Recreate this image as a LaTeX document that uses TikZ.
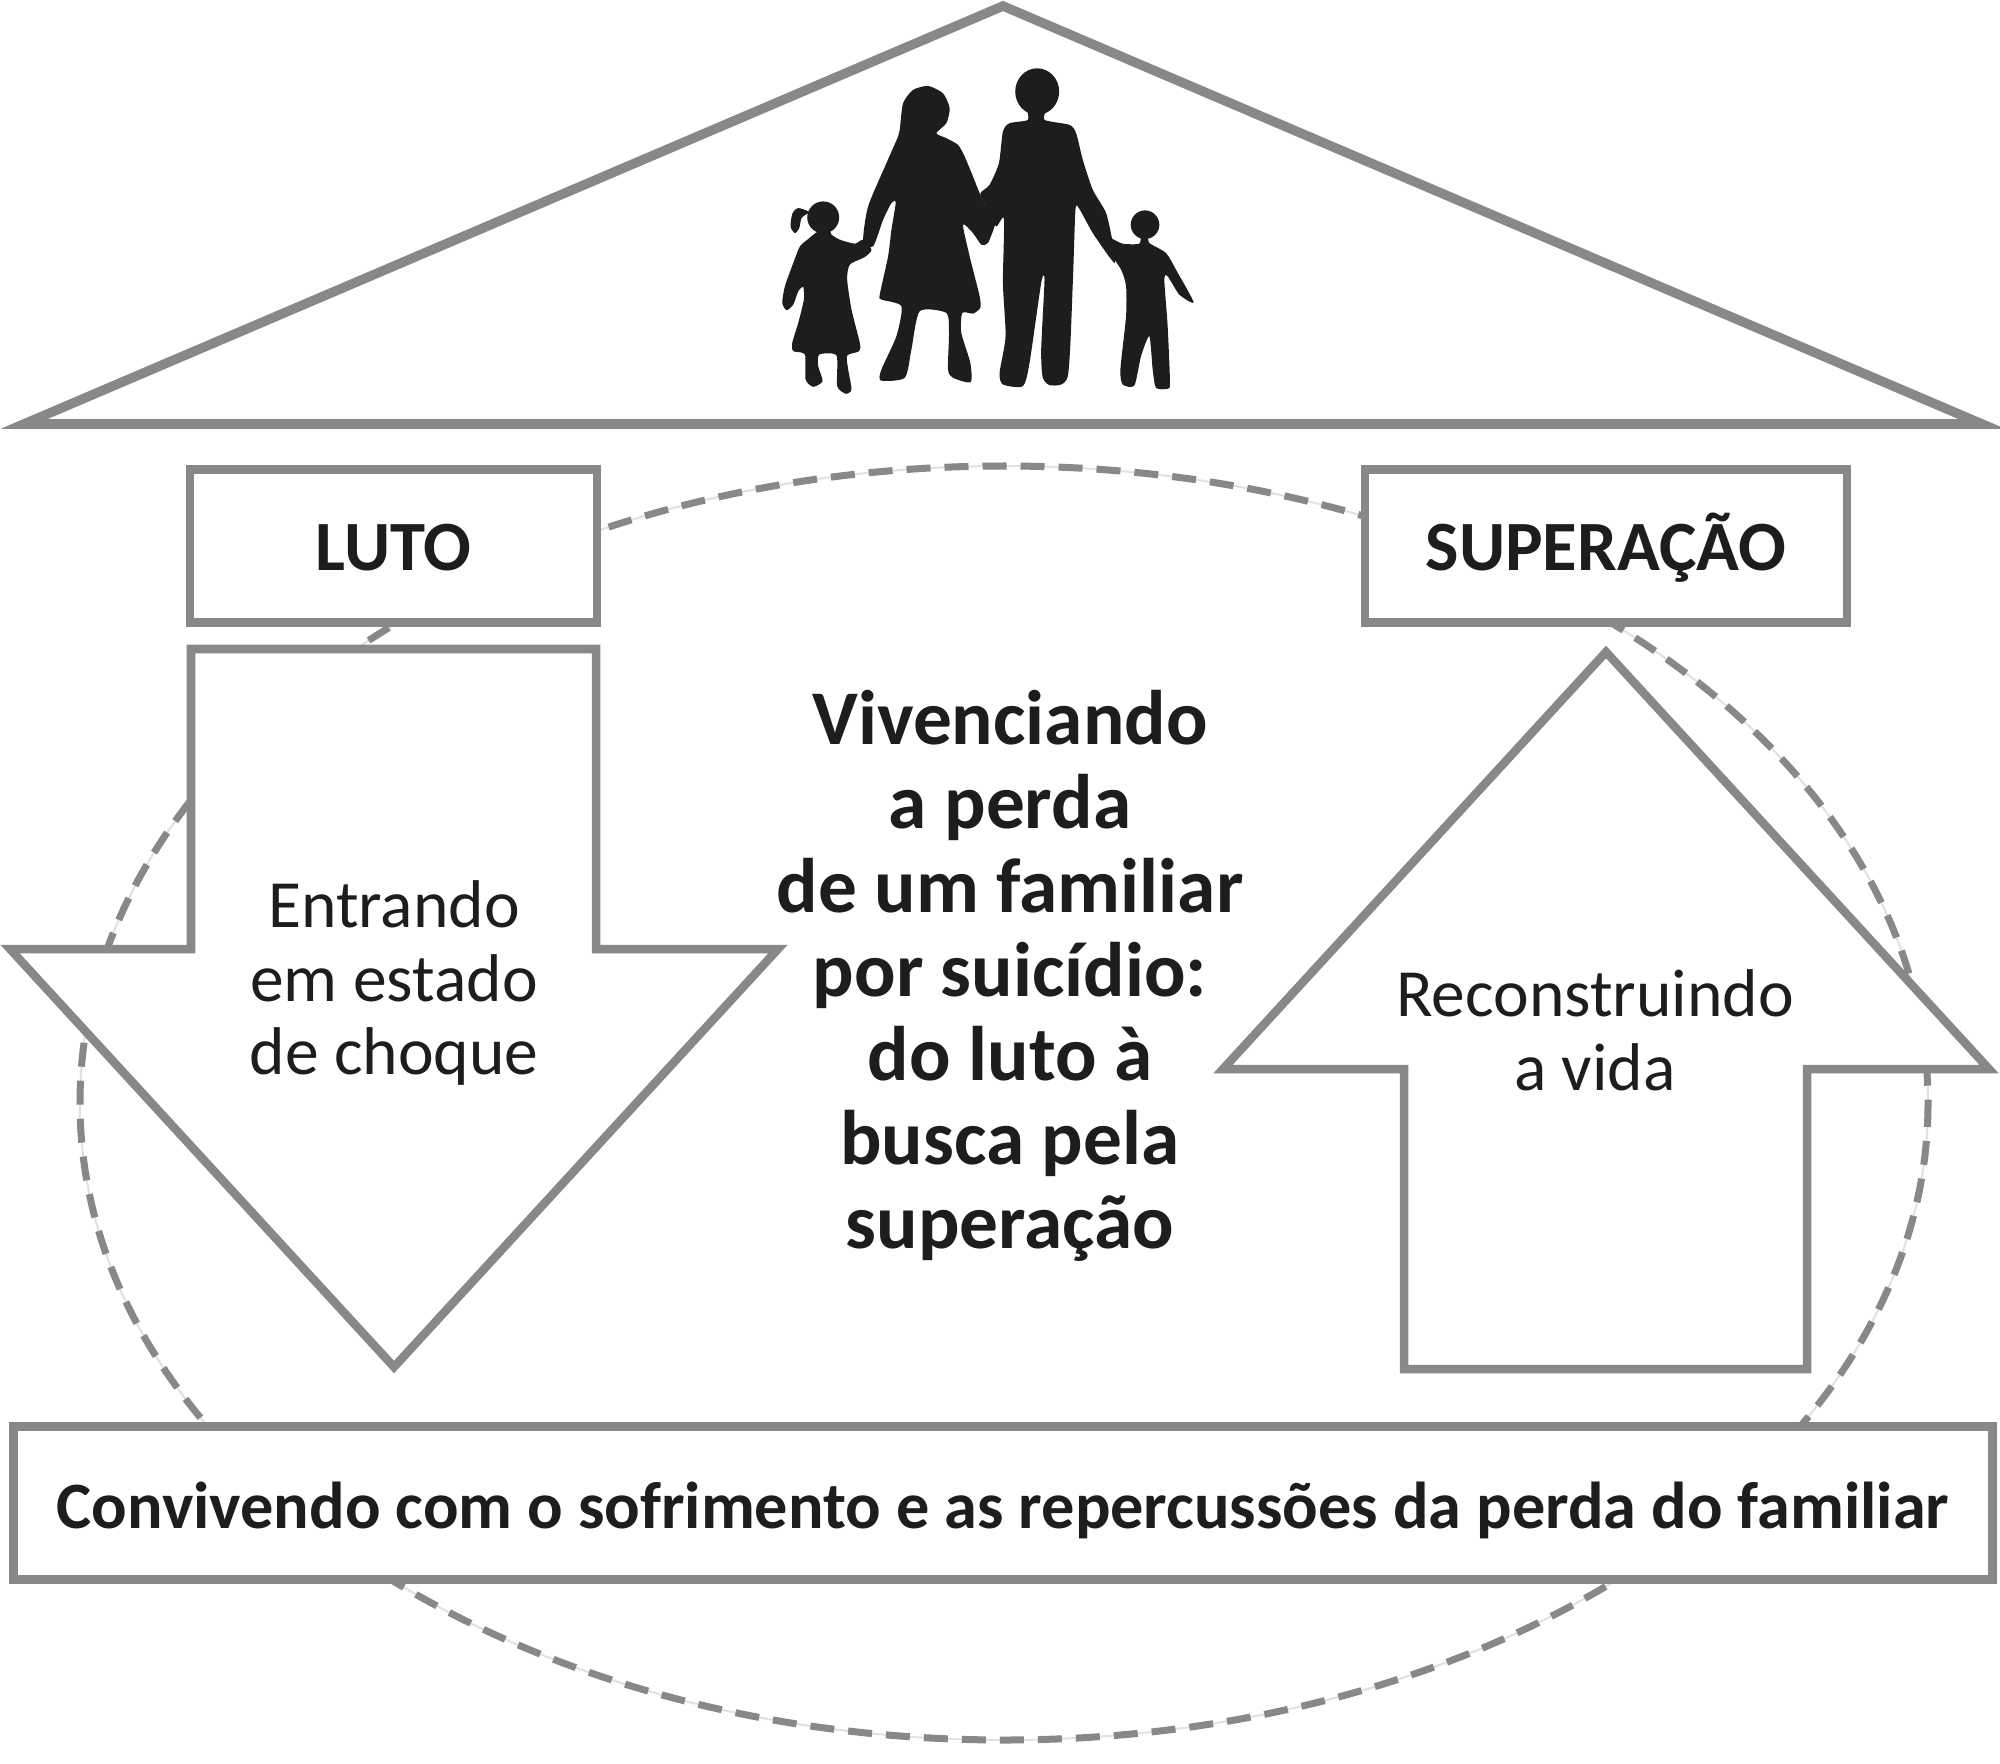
\documentclass[tikz,border=0pt]{standalone}
\usepackage{fontspec}
\setmainfont{Carlito}
\definecolor{edge}{HTML}{87888A}
\definecolor{ink}{HTML}{1D1D1B}
\tikzset{
  shapeline/.style={draw=edge,line width=0.085cm,fill=white,miter limit=20},
  roofline/.style={shapeline,line width=0.095cm},
  labelbox/.style={shapeline,rectangle,inner sep=0pt,text=ink,align=center},
  plain/.style={text=ink,align=center,inner sep=0pt},
  dashring/.style={draw=edge,line width=0.07cm,dash pattern=on 0.24cm off 0.14cm},
  faintring/.style={draw=edge!25,line width=0.02cm},
  sil/.style={fill=ink,draw=none},
  bigfont/.style={font=\fontsize{22pt}{23.9pt}\selectfont\bfseries},
  barfont/.style={font=\fontsize{18.85pt}{22pt}\selectfont\bfseries},
  capfont/.style={font=\fontsize{20.1pt}{24pt}\selectfont\bfseries},
  midfont/.style={font=\fontsize{19.2pt}{21pt}\selectfont}
}
\begin{document}
\begin{tikzpicture}[x=0.01cm,y=-0.01cm]
\useasboundingbox (0,0) rectangle (2000,1764);
\fill[white] (0,0) rectangle (2000,1764);
% dashed ring
\draw[faintring] (1004,1103) ellipse [x radius=924,y radius=637];
\draw[dashring] (1004,1103) ellipse [x radius=924,y radius=637];
% roof
\draw[roofline] (1003,6) -- (1982,424) -- (24,424) -- cycle;
% family
\begin{scope}[shift={(740,50)},x=0.003333cm,y=-0.003333cm]
\fill[sil] (250,503) circle [radius=48];
\fill[sil] plot[smooth cycle,tension=0.5] coordinates {(205,485)(175,475)(158,490)(152,530)(165,550)(178,535)(185,505)(205,490)};
\fill[sil] plot[smooth cycle,tension=0.4] coordinates {(235,545)(200,572)(180,590)(160,640)(135,710)(127,760)(140,782)(160,765)(175,725)(190,712)(192,750)(175,820)(157,880)(160,905)(195,915)(197,990)(220,1012)(248,995)(235,950)(238,915)(290,918)(292,1010)(318,1033)(335,1020)(325,960)(322,918)(358,905)(360,880)(335,780)(322,690)(330,645)(375,622)(395,600)(370,570)(345,582)(300,570)(275,555)(270,545)};
\fill[sil] plot[smooth cycle,tension=0.4] coordinates {(480,240)(490,160)(520,120)(565,108)(610,130)(630,175)(620,220)(590,250)(620,265)(655,285)(675,320)(700,380)(720,430)(740,470)(770,505)(765,530)(745,580)(725,585)(700,550)(670,525)(690,620)(720,740)(722,775)(700,792)(668,790)(665,850)(692,940)(693,998)(640,985)(625,960)(628,850)(620,790)(540,785)(515,900)(495,985)(423,993)(425,960)(470,860)(485,770)(425,750)(420,735)(445,620)(455,540)(468,458)(455,460)(430,510)(400,590)(370,575)(385,470)(440,340)(475,260)};
\fill[sil] (893,125) ellipse [x radius=66,y radius=70];
\fill[sil] plot[smooth cycle,tension=0.4] coordinates {(865,175)(865,210)(810,220)(790,245)(778,340)(750,405)(722,432)(745,480)(770,530)(793,508)(790,700)(798,860)(780,970)(790,1005)(850,1010)(870,940)(905,700)(915,690)(905,900)(910,985)(935,1008)(985,980)(1000,700)(1008,480)(1020,478)(1060,550)(1125,640)(1120,580)(1100,490)(1060,420)(1030,330)(1010,250)(990,225)(915,210)(918,175)};
\fill[sil] (1217,525) circle [radius=43];
\fill[sil] plot[smooth cycle,tension=0.4] coordinates {(1205,555)(1200,582)(1150,582)(1115,565)(1095,550)(1100,590)(1145,660)(1160,710)(1160,800)(1143,960)(1150,1005)(1185,1008)(1205,920)(1230,860)(1240,960)(1250,1015)(1285,1018)(1292,1000)(1285,830)(1275,690)(1285,680)(1320,735)(1363,758)(1310,660)(1280,610)(1230,580)(1225,555)};
\end{scope}
% arrows
\draw[shapeline] (191,649) -- (596,649) -- (596,949) -- (778,949) -- (394,1367) -- (10,949) -- (191,949) -- cycle;
\draw[shapeline] (1606,652) -- (1989,1069) -- (1807,1069) -- (1807,1369) -- (1404,1369) -- (1404,1069) -- (1223,1069) -- cycle;
% boxes
\node[labelbox,capfont,minimum width=4.07cm,minimum height=1.53cm] (luto) at (393.5,546) {\raisebox{-0.24cm}[0pt][0pt]{LUTO}};
\node[labelbox,capfont,minimum width=4.82cm,minimum height=1.53cm] (sup) at (1606,546) {\raisebox{-0.24cm}[0pt][0pt]{SUPERAÇÃO}};
\node[labelbox,barfont,minimum width=19.78cm,minimum height=1.53cm] (conv) at (1003,1503) {\raisebox{-0.25cm}[0pt][0pt]{Convivendo com o sofrimento e as repercussões da perda do familiar}};
% labels
\node[plain,midfont] (ent) at (394,983) {Entrando\\em estado\\de choque};
\node[plain,midfont] (rec) at (1595,1030) {Reconstruindo\\a vida};
\node[plain,bigfont] (mid) at (1010,976) {Vivenciando\\a perda\\de um familiar\\por suicídio:\\do luto à\\busca pela\\superação};
\end{tikzpicture}
\end{document}
